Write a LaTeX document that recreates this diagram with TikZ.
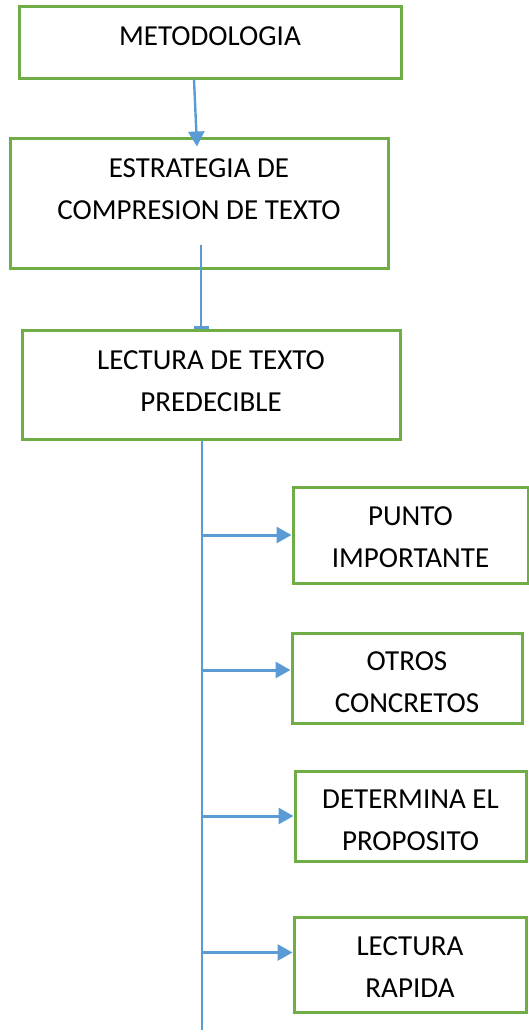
\documentclass[tikz,border=0pt]{standalone}
\usepackage{fontspec}
\setmainfont{Carlito}
\usetikzlibrary{positioning,arrows.meta}
\definecolor{boxgreen}{RGB}{112,173,71}
\definecolor{lineblue}{RGB}{91,155,213}
\tikzset{
  caja/.style={draw=boxgreen, line width=1.5pt, align=center, inner ysep=0pt, text depth=3pt, font=\fontsize{14.5}{21}\selectfont},
  linea/.style={draw=lineblue, line width=1.2pt},
  flecha/.style={linea, -{Triangle[length=7.5pt,width=8pt]}}
}

\begin{document}
\begin{tikzpicture}[x=0.5pt, y=-0.5pt]
\useasboundingbox (0,0) rectangle (529,1034);
\node[caja, minimum width=191pt, minimum height=36pt, text height=10pt, text depth=7pt] (box_metodo) at (210,42) {METODOLOGIA};
\node[caja, minimum width=189pt, minimum height=65pt, text height=19pt] (box_estrategia) at (199,203) {ESTRATEGIA DE\\COMPRESION DE TEXTO};
\node[caja, minimum width=189pt, minimum height=54.5pt, text height=29.5pt] (box_lectura) at (211,384.5) {LECTURA DE TEXTO\\PREDECIBLE};
\node[caja, minimum width=117.5pt, minimum height=48pt, text height=35pt] (box_punto) at (410.5,535) {PUNTO\\IMPORTANTE};
\node[caja, minimum width=115pt, minimum height=45pt, text height=37pt] (box_otros) at (407,678) {OTROS\\CONCRETOS};
\node[caja, minimum width=115.5pt, minimum height=45pt, text height=37pt] (box_proposito) at (410.5,816) {DETERMINA EL\\PROPOSITO};
\node[caja, minimum width=116pt, minimum height=47.5pt, text height=35.5pt] (box_rapida) at (410,964.5) {LECTURA\\RAPIDA};
\coordinate (fin_tronco) at (202,1030);
\draw[flecha] ([xshift=-8pt]box_metodo.south) -- ([xshift=-1pt,yshift=-5pt]box_estrategia.north);
\draw[linea, -{Bar[width=7.5pt]}] ([xshift=1pt,yshift=12.5pt]box_estrategia.south) -- ([xshift=-5pt]box_lectura.north);
\draw[linea, line width=1pt] ([xshift=-4.5pt]box_lectura.south) -- (fin_tronco);
\foreach \b/\s in {box_punto/0pt, box_otros/4pt, box_proposito/0pt, box_rapida/6pt}{
  \coordinate (entrada) at ([yshift=\s]\b.west);
  \draw[flecha, line width=1.5pt] (fin_tronco |- entrada) -- (entrada);
}
\end{tikzpicture}
\end{document}
